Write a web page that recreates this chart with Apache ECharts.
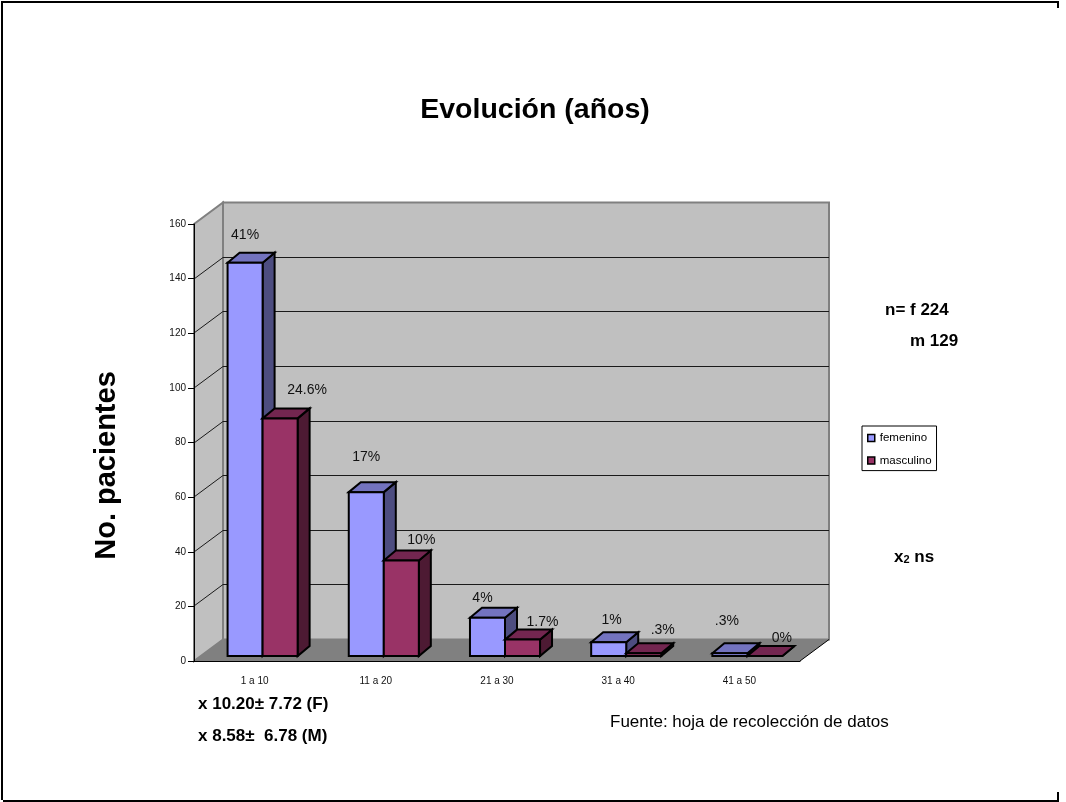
<!DOCTYPE html>
<html>
<head>
<meta charset="utf-8">
<style>html,body{margin:0;padding:0;background:#fff}#c{width:1066px;height:802px}</style>
<script src="https://cdn.jsdelivr.net/npm/echarts@6/dist/echarts.min.js"></script>
</head>
<body>
<div id="c"></div>
<script>
// Patients by years since onset, split by sex
const categories = ['1 a 10', '11 a 20', '21 a 30', '31 a 40', '41 a 50'];
const femenino = [144, 60, 14, 5, 1];
const masculino = [87, 35, 6, 1, 0];
const femeninoLabels = ['41%', '17%', '4%', '1%', '.3%'];
const masculinoLabels = ['24.6%', '10%', '1.7%', '.3%', '0%'];
const valueTicks = [20, 40, 60, 80, 100, 120, 140, 160];

// Hand-placed label nudges relative to the bar's top-front centre
const femeninoNudge = [[0, -28], [0, -35], [-5, -20], [3, -22], [-3, -32]];
const masculinoNudge = [[27, -28], [20, -20], [20, -17], [19, -23], [17, -18]];

const FONT = '"Liberation Sans", Arial, sans-serif';
const WALL = [29, -21.5];   // depth of the box
const BAR_DEPTH = [12, -10];
const BAR_INSET = -5;       // bars stand slightly behind the front edge of the floor
const BAR_SHIFT = 8;
const BAR_RATIO = 0.289;

function renderBackdrop(params, api) {
  const cs = params.coordSys;
  const l = cs.x, r = cs.x + cs.width, t = cs.y, b = cs.y + cs.height;
  const [dx, dy] = WALL;
  const kids = [
    { type: 'polygon', shape: { points: [[l + dx, t + dy], [r + dx, t + dy], [r + dx, b + dy], [l + dx, b + dy]] },
      style: { fill: '#c0c0c0', stroke: '#808080', lineWidth: 2 } },
    { type: 'polygon', shape: { points: [[l, t], [l + dx, t + dy], [l + dx, b + dy], [l, b]] },
      style: { fill: '#c0c0c0', stroke: '#808080', lineWidth: 2 } },
    { type: 'polygon', shape: { points: [[l, b], [l + dx, b + dy], [r + dx, b + dy], [r, b]] },
      style: { fill: '#808080' } },
    { type: 'line', shape: { x1: r, y1: b, x2: r + dx, y2: b + dy }, style: { stroke: '#000', lineWidth: 1 } }
  ];
  valueTicks.filter(v => v < 160).forEach(v => {
    const y = Math.round(api.coord([0, v])[1]);
    kids.push({ type: 'polyline', shape: { points: [[l, y], [l + dx, y + dy], [r + dx, y + dy]] },
      style: { fill: null, stroke: '#1a1a1a', lineWidth: 1 } });
  });
  return { type: 'group', children: kids };
}

function barRenderer(side, colors, labels, nudges) {
  return function (params, api) {
    const i = api.value(0);
    const base = api.coord([i, 0]);
    const top = api.coord([i, api.value(1)]);
    const w = api.size([1, 0])[0] * BAR_RATIO;
    const anchor = base[0] + BAR_SHIFT;
    const x0 = side < 0 ? anchor - w : anchor;
    const x1 = x0 + w;
    const y0 = base[1] + BAR_INSET;
    const y1 = top[1] + BAR_INSET;
    const [dx, dy] = BAR_DEPTH;
    const edge = { stroke: '#000', lineWidth: 2, lineJoin: 'miter' };
    const nudge = nudges[i];
    return {
      type: 'group',
      children: [
        { type: 'polygon', shape: { points: [[x1, y1], [x1 + dx, y1 + dy], [x1 + dx, y0 + dy], [x1, y0]] },
          style: Object.assign({ fill: colors.side }, edge) },
        { type: 'polygon', shape: { points: [[x0, y1], [x0 + dx, y1 + dy], [x1 + dx, y1 + dy], [x1, y1]] },
          style: Object.assign({ fill: colors.top }, edge) },
        { type: 'polygon', shape: { points: [[x0, y0], [x0, y1], [x1, y1], [x1, y0]] },
          style: Object.assign({ fill: colors.front }, edge) },
        { type: 'text',
          style: { text: labels[params.dataIndex], x: (x0 + x1) / 2 + nudge[0], y: y1 + nudge[1],
            textAlign: 'center', textVerticalAlign: 'middle', fill: '#111', font: '14px ' + FONT } }
      ]
    };
  };
}

const BLUE = { front: '#9999ff', top: '#7373bf', side: '#4d4d80' };
const MAROON = { front: '#993366', top: '#732650', side: '#4d1a33' };

function note(text, x, y, weight) {
  return { type: 'text', x: x, y: y, silent: true,
    style: { text: text, fill: '#000', font: (weight || 'bold') + ' 17px ' + FONT, textVerticalAlign: 'middle',
      rich: { sub: { font: 'bold 11px ' + FONT, fill: '#000', verticalAlign: 'bottom', padding: [6, 0, 0, 0] } } } };
}

function frame(points) {
  return { type: 'polyline', silent: true, shape: { points: points },
    style: { fill: null, stroke: '#000', lineWidth: 2 } };
}

const chart = echarts.init(document.getElementById('c'), null, { renderer: 'canvas' });
chart.setOption({
  animation: false,
  backgroundColor: '#fff',
  title: {
    text: 'Evolución (años)', left: 530, top: 91, textAlign: 'center',
    textStyle: { fontFamily: FONT, fontSize: 28.5, fontWeight: 'bold', color: '#000' }
  },
  grid: { left: 194, top: 224, width: 606, height: 437, containLabel: false },
  legend: {
    orient: 'vertical', left: 862, top: 426, padding: [6, 5, 4, 5], itemGap: 10.6,
    itemWidth: 7, itemHeight: 7, icon: 'rect', borderColor: '#000', borderWidth: 1, borderRadius: 0,
    backgroundColor: '#fff',
    textStyle: { fontFamily: FONT, fontSize: 11.5, color: '#000' },
    data: [
      { name: 'femenino', itemStyle: { color: BLUE.front, borderColor: '#000', borderWidth: 1.5 } },
      { name: 'masculino', itemStyle: { color: MAROON.front, borderColor: '#000', borderWidth: 1.5 } }
    ]
  },
  xAxis: {
    type: 'category', data: categories, z: 5,
    axisLine: { lineStyle: { color: '#000', width: 1 } },
    axisTick: { length: 6, alignWithLabel: false, lineStyle: { color: '#000' } },
    axisLabel: { fontFamily: FONT, fontSize: 10, color: '#111', margin: 15 }
  },
  yAxis: {
    type: 'value', min: 0, max: 160, interval: 20, z: 5,
    name: 'No. pacientes', nameLocation: 'center', nameRotate: 90, nameGap: 73,
    nameTextStyle: { fontFamily: FONT, fontSize: 29, fontWeight: 'bold', color: '#000', padding: [0, 46, 0, 0] },
    axisLine: { show: true, lineStyle: { color: '#000', width: 1 } },
    axisTick: { show: true, length: 6, lineStyle: { color: '#000' } },
    axisLabel: { fontFamily: FONT, fontSize: 10, color: '#111', margin: 8, padding: [6, 0, 0, 0] },
    splitLine: { show: false }
  },
  series: [
    { type: 'custom', name: 'backdrop', silent: true, z: 1, data: [[0, 0]], renderItem: renderBackdrop },
    { type: 'custom', name: 'femenino', z: 2, encode: { x: 0, y: 1 },
      itemStyle: { color: BLUE.front },
      data: femenino.map((v, i) => [i, v]),
      renderItem: barRenderer(-1, BLUE, femeninoLabels, femeninoNudge) },
    { type: 'custom', name: 'masculino', z: 3, encode: { x: 0, y: 1 },
      itemStyle: { color: MAROON.front },
      data: masculino.map((v, i) => [i, v]),
      renderItem: barRenderer(1, MAROON, masculinoLabels, masculinoNudge) }
  ],
  graphic: [
    frame([[2, 800], [2, 2], [1058, 2], [1058, 8]]),
    frame([[3, 801], [1058, 801], [1058, 792]]),
    note('n= f 224', 885, 310),
    note('m 129', 910, 341),
    note('x{sub|2} ns', 894, 557),
    note('x 10.20± 7.72 (F)', 198, 704),
    note('x 8.58±  6.78 (M)', 198, 736),
    note('Fuente: hoja de recolección de datos', 610, 722, 'normal')
  ]
});
</script>
</body>
</html>
